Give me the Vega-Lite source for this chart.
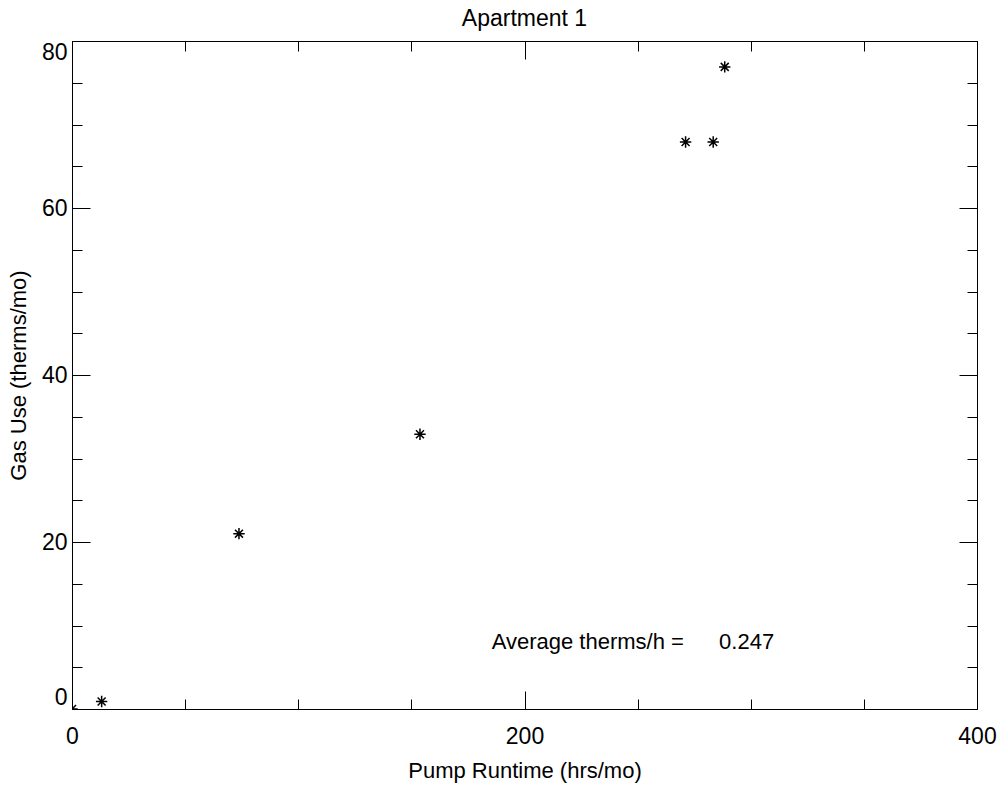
{
  "$schema": "https://vega.github.io/schema/vega-lite/v6.json",
  "width": 905,
  "height": 668,
  "autosize": "none",
  "padding": {"left": 72, "top": 41, "right": 24, "bottom": 76},
  "background": "white",
  "config": {
    "view": {"stroke": "black"},
    "font": "Liberation Sans",
    "axis": {
      "grid": false,
      "domainColor": "black",
      "tickColor": "black",
      "labelColor": "black",
      "titleColor": "black",
      "labelFont": "Liberation Sans",
      "titleFont": "Liberation Sans",
      "labelFontSize": 23,
      "titleFontSize": 22,
      "titleFontWeight": "normal",
      "tickWidth": 1,
      "domainWidth": 1,
      "labelOverlap": false
    }
  },
  "title": {"text": "Apartment 1", "fontSize": 23, "fontWeight": "normal", "font": "Liberation Sans", "color": "black", "offset": 10},
  "layer": [
    {
      "data": {"values": [
        {"runtime": 0, "gas": 0},
        {"runtime": 13.1, "gas": 0.9},
        {"runtime": 73.8, "gas": 21.0},
        {"runtime": 153.8, "gas": 32.9},
        {"runtime": 271.2, "gas": 67.9},
        {"runtime": 283.4, "gas": 67.9},
        {"runtime": 288.5, "gas": 76.9}
      ]},
      "mark": {"type": "point", "shape": "M-1,0L1,0M0,-1L0,1M-0.7,-0.7L0.7,0.7M-0.7,0.7L0.7,-0.7", "filled": false, "stroke": "black", "strokeWidth": 1.5, "size": 130, "opacity": 1, "clip": true},
      "encoding": {
        "x": {
          "field": "runtime", "type": "quantitative",
          "scale": {"domain": [0, 400], "nice": false, "zero": false},
          "axis": {
            "orient": "bottom",
            "title": "Pump Runtime (hrs/mo)",
            "values": [0, 50, 100, 150, 200, 250, 300, 350, 400],
            "labelExpr": "datum.value % 200 === 0 ? datum.label : ''",
            "tickSize": {"condition": {"test": "datum.value % 200 === 0", "value": -18}, "value": -10},
            "labelFlush": false,
            "labelPadding": 34,
            "titlePadding": 4
          }
        },
        "y": {
          "field": "gas", "type": "quantitative",
          "scale": {"domain": [0, 80], "nice": false, "zero": false},
          "axis": {
            "orient": "left",
            "title": "Gas Use (therms/mo)",
            "values": [0, 5, 10, 15, 20, 25, 30, 35, 40, 45, 50, 55, 60, 65, 70, 75, 80],
            "labelExpr": "datum.value % 20 === 0 ? datum.label : ''",
            "tickSize": {"condition": {"test": "datum.value % 20 === 0", "value": -18}, "value": -10},
            "labelFlush": true,
            "labelPadding": 23,
            "titlePadding": 11
          }
        }
      }
    },
    {
      "data": {"values": [
        {"runtime": 185.5, "gas": 8.06, "label": "Average therms/h ="},
        {"runtime": 286, "gas": 8.06, "label": "0.247"}
      ]},
      "mark": {"type": "text", "align": "left", "baseline": "middle", "fontSize": 22, "font": "Liberation Sans", "color": "black"},
      "encoding": {
        "x": {
          "field": "runtime", "type": "quantitative",
          "axis": {
            "orient": "top", "title": null, "labels": false,
            "values": [0, 50, 100, 150, 200, 250, 300, 350, 400],
            "tickSize": {"condition": {"test": "datum.value % 200 === 0", "value": -18}, "value": -10}
          }
        },
        "y": {
          "field": "gas", "type": "quantitative",
          "axis": {
            "orient": "right", "title": null, "labels": false,
            "values": [0, 5, 10, 15, 20, 25, 30, 35, 40, 45, 50, 55, 60, 65, 70, 75, 80],
            "tickSize": {"condition": {"test": "datum.value % 20 === 0", "value": -18}, "value": -10}
          }
        },
        "text": {"field": "label"}
      }
    }
  ],
  "resolve": {"axis": {"x": "independent", "y": "independent"}}
}
